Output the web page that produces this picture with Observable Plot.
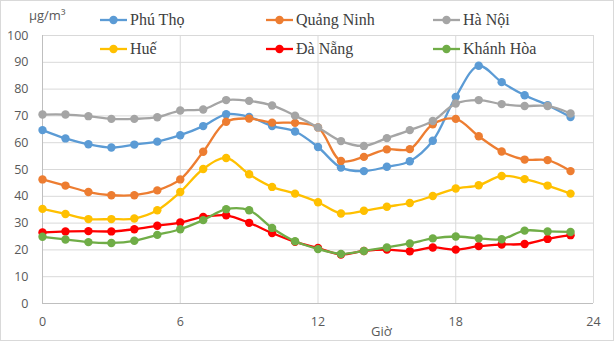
<!DOCTYPE html>
<html>
<head>
<meta charset="utf-8">
<script src="https://cdn.jsdelivr.net/npm/d3@7"></script>
<script src="https://cdn.jsdelivr.net/npm/@observablehq/plot@0.6"></script>
<style>
  html, body { margin: 0; padding: 0; background: #fff; }
  #wrap { position: relative; width: 614px; height: 341px; overflow: hidden; }
  #wrap svg.plot { position: absolute; left: 0; top: 0; }
  #border { position: absolute; left: 0; top: 0; width: 612px; height: 339px; border: 1px solid #d9d9d9; pointer-events: none; }
  .lbl { position: absolute; font-family: "Open Sans", sans-serif; font-size: 12.5px; color: #595959; white-space: nowrap; }
  .leg { position: absolute; display: flex; align-items: center; font-family: "Liberation Serif", serif; font-size: 16px; color: #404040; white-space: nowrap; }
  .leg svg { display: block; margin-right: 3px; }
</style>
</head>
<body>
<div id="wrap"></div>
<script>
const hours = [0,1,2,3,4,5,6,7,8,9,10,11,12,13,14,15,16,17,18,19,20,21,22,23];
const phuTho    = [64.7,61.6,59.4,58.2,59.3,60.4,62.8,66.2,70.6,69.6,66.2,64.2,58.4,50.7,49.4,51.0,53.1,60.7,77.1,88.7,82.6,77.7,74.0,69.6];
const quangNinh = [46.3,44.0,41.6,40.4,40.4,42.2,46.3,56.6,67.8,69.0,67.5,67.4,65.7,53.2,54.7,57.5,57.6,66.9,68.9,62.4,56.7,53.7,53.5,49.4];
const haNoi     = [70.5,70.5,69.9,68.9,68.9,69.5,72.0,72.4,75.9,75.6,73.9,70.1,65.7,60.6,58.8,61.7,64.7,68.1,74.6,75.9,74.4,73.7,73.7,70.9];
const hue       = [35.3,33.4,31.5,31.5,31.7,34.8,41.6,50.2,54.3,48.2,43.5,41.0,37.8,33.6,34.6,36.1,37.5,40.1,42.9,44.1,47.6,46.4,44.0,41.0];
const daNang    = [26.5,26.9,27.0,26.9,27.7,29.0,30.2,32.3,32.9,30.1,26.3,23.0,20.7,18.3,19.6,20.1,19.5,20.9,20.1,21.4,22.0,22.2,24.1,25.5];
const khanhHoa  = [24.9,23.9,22.9,22.6,23.4,25.6,27.7,31.1,35.2,34.8,28.2,23.2,20.3,18.5,19.6,20.9,22.4,24.3,25.0,24.3,24.0,27.2,26.9,26.7];

const seriesNames  = ["Phú Thọ","Quảng Ninh","Hà Nội","Huế","Đà Nẵng","Khánh Hòa"];
const seriesValues = [phuTho, quangNinh, haNoi, hue, daNang, khanhHoa];
const seriesColors = ["#5B9BD5","#ED7D31","#A5A5A5","#FFC000","#FF0000","#70AD47"];

const xTicks = [0,6,12,18,24];
const yTicks = [0,10,20,30,40,50,60,70,80,90,100];
const yUnit = "µg/m³";
const xTitle = "Giờ";

const seriesMarks = seriesNames.flatMap((name, i) => {
  const rows = hours.map((h, j) => ({hour: h, value: seriesValues[i][j], series: name}));
  return [
    Plot.line(rows, {x: "hour", y: "value", stroke: seriesColors[i], strokeWidth: 2.3, curve: "catmull-rom"}),
    Plot.dot(rows, {x: "hour", y: "value", fill: seriesColors[i], r: 4.2})
  ];
});

const chart = Plot.plot({
  width: 614,
  height: 341,
  marginLeft: 42,
  marginRight: 21,
  marginTop: 35,
  marginBottom: 38,
  style: {fontFamily: "Open Sans, sans-serif", fontSize: "12.5px", color: "#595959", background: "transparent"},
  x: {domain: [0, 24], label: null},
  y: {domain: [0, 100], label: null},
  marks: [
    Plot.gridY(yTicks, {stroke: "#d9d9d9", strokeOpacity: 1}),
    Plot.gridX(xTicks, {stroke: "#d9d9d9", strokeOpacity: 1}),
    Plot.ruleX([0], {stroke: "#bfbfbf"}),
    Plot.ruleY([0], {stroke: "#bfbfbf"}),
    Plot.axisY(yTicks, {tickSize: 0, tickPadding: 14, fill: "#595959", label: null}),
    Plot.axisX(xTicks, {tickSize: 0, tickPadding: 14, fill: "#595959", label: null}),
    ...seriesMarks
  ]
});
chart.classList.add("plot");

const wrap = document.getElementById("wrap");
wrap.appendChild(chart);

// unit label
const unit = document.createElement("div");
unit.className = "lbl";
unit.style.left = "29px";
unit.style.top = "6px";
unit.style.fontSize = "13px";
unit.textContent = yUnit;
wrap.appendChild(unit);

// x title
const xt = document.createElement("div");
xt.className = "lbl";
xt.style.left = "371px";
xt.style.top = "322px";
xt.style.fontSize = "13px";
xt.textContent = xTitle;
wrap.appendChild(xt);

// legend
const legCols = [100, 266, 433];
const legRows = [20, 49];
seriesNames.forEach((name, i) => {
  const d = document.createElement("div");
  d.className = "leg";
  d.style.left = legCols[i % 3] + "px";
  d.style.top = (legRows[Math.floor(i / 3)] - 10) + "px";
  d.style.height = "20px";
  const c = seriesColors[i];
  d.innerHTML = `<svg width="27" height="12"><line x1="0" y1="6" x2="27" y2="6" stroke="${c}" stroke-width="2.3"/><circle cx="13.5" cy="6" r="4.2" fill="${c}"/></svg><span>${name}</span>`;
  wrap.appendChild(d);
});

const border = document.createElement("div");
border.id = "border";
wrap.appendChild(border);
</script>
</body>
</html>
